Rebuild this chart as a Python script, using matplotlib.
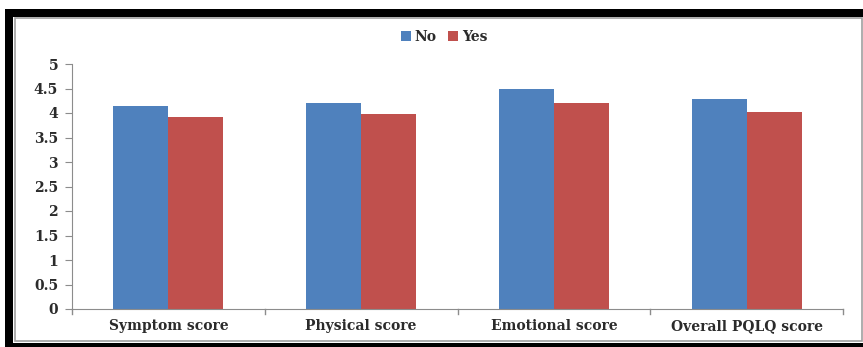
import matplotlib
matplotlib.use('Agg')
import matplotlib.pyplot as plt
import numpy as np
from matplotlib.patches import Rectangle

BLUE, RED, AXIS, TEXT = '#4F81BD', '#C0504D', '#8C8C8C', '#2B2B2B'

categories = ['Symptom score', 'Physical score', 'Emotional score', 'Overall PQLQ score']
no_values = [4.14, 4.20, 4.50, 4.29]
yes_values = [3.92, 3.98, 4.20, 4.03]
y_ticks = [0, 0.5, 1, 1.5, 2, 2.5, 3, 3.5, 4, 4.5, 5]
y_tick_labels = ['0', '0.5', '1', '1.5', '2', '2.5', '3', '3.5', '4', '4.5', '5']

W, H = 863, 347
fig = plt.figure(figsize=(W / 100, H / 100), dpi=100)
fig.patch.set_facecolor('white')


def px_rect(x0, y0, x1, y1, **kw):
    # rectangle given in pixel coords, measured from the top-left corner
    fig.add_artist(Rectangle((x0 / W, 1 - y1 / H), (x1 - x0) / W, (y1 - y0) / H,
                             transform=fig.transFigure, **kw))


# heavy black frame on top, left and bottom, thin grey inner border
px_rect(5, 9, W, 17, facecolor='black', edgecolor='none')
px_rect(5, 9, 13, H, facecolor='black', edgecolor='none')
px_rect(5, 343, W, H, facecolor='black', edgecolor='none')
px_rect(14.5, 18, 861.5, 341, facecolor='none', edgecolor='#A0A0A0', lw=1.2)

font = {'family': 'DejaVu Serif', 'weight': 'bold', 'size': 10}

ax = fig.add_axes([72 / W, 1 - 309 / H, (843 - 72) / W, (309 - 64) / H])
x = np.arange(len(categories))
bw = 0.285
ax.bar(x - bw / 2, no_values, bw, color=BLUE, label='No')
ax.bar(x + bw / 2, yes_values, bw, color=RED, label='Yes')

ax.set_xlim(-0.5, len(categories) - 0.5)
ax.set_ylim(0, 5)
ax.set_yticks(y_ticks)
ax.set_yticklabels(y_tick_labels, color=TEXT, **font)
ax.set_xticks(x)
ax.set_xticklabels(categories, color=TEXT, **font)
ax.tick_params(axis='x', length=0, pad=7)
ax.tick_params(axis='y', length=5, color=AXIS, pad=5)
# category separator ticks below the x axis
for b in np.arange(-0.5, len(categories), 1.0):
    ax.plot([b, b], [0, -0.1], color=AXIS, lw=1, clip_on=False)
for s in ['top', 'right']:
    ax.spines[s].set_visible(False)
for s in ['left', 'bottom']:
    ax.spines[s].set_color(AXIS)

leg = fig.legend(loc='center', bbox_to_anchor=(444 / W, 1 - 37 / H), ncol=2, frameon=False,
                 prop=font, handlelength=0.7, handleheight=0.7,
                 handletextpad=0.3, columnspacing=0.8)
for t in leg.get_texts():
    t.set_color(TEXT)

fig.savefig('out.png', dpi=100)
